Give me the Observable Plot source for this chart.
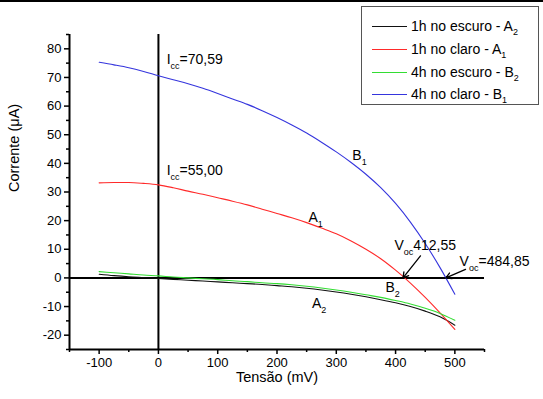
<!DOCTYPE html>
<html>
<head>
<meta charset="utf-8">
<script src="https://cdn.jsdelivr.net/npm/d3@7"></script>
<script src="https://cdn.jsdelivr.net/npm/@observablehq/plot@0.6"></script>
<style>
  html, body { margin: 0; padding: 0; background: #fff; }
  #wrap { position: relative; width: 543px; height: 399px; overflow: hidden; font-family: Arial, "Liberation Sans", sans-serif; }
  #topbar { position: absolute; left: 0; top: 0; width: 543px; height: 2px; background: #000; }
  #legend { position: absolute; left: 361px; top: 6px; width: 176px; height: 97px; border: 1px solid #555; background: #fff; }
  .row { position: absolute; left: 0; height: 16px; display: flex; align-items: center; font-size: 14px; color: #000; white-space: nowrap; }
  .swatch { display: inline-block; width: 35px; height: 0; border-top: 1px solid; margin-left: 10px; margin-right: 4px; }
  sub { font-size: 9px; vertical-align: -4px; line-height: 0; }
</style>
</head>
<body>
<div id="wrap"><div id="topbar"></div></div>
<script>
// ---- data ----
const voltage = [-100,-75,-50,-25,0,25,50,75,100,125,150,175,200,225,250,275,300,325,350,375,400,425,450,475,500];
const currentA2 = [1.3,0.8,0.4,0.1,-0.2,-0.5,-0.8,-1.1,-1.4,-1.7,-2.0,-2.3,-2.7,-3.1,-3.6,-4.2,-4.9,-5.7,-6.6,-7.6,-8.7,-10.0,-11.6,-13.6,-16.5];
const currentA1 = [33.2,33.3,33.3,33.0,32.5,31.5,30.3,29.2,28.0,26.8,25.5,24.0,22.5,21.0,19.3,17.4,15.4,12.9,10.0,6.7,2.7,-1.8,-6.8,-12.2,-18.0];
const currentB2 = [2.2,1.8,1.4,1.0,0.7,0.3,0.0,-0.3,-0.6,-1.0,-1.3,-1.7,-2.0,-2.4,-2.9,-3.5,-4.2,-5.0,-5.9,-6.8,-7.9,-9.1,-10.6,-12.4,-14.8];
const currentB1 = [75.3,74.4,73.4,72.1,70.6,69.2,67.8,66.2,64.4,62.5,60.6,58.4,56.0,53.4,50.6,47.4,44.0,40.3,36.2,31.5,26.0,19.5,12.0,3.6,-5.7];

const seriesNames = ["1h no escuro - A_{2}", "1h no claro - A_{1}", "4h no escuro - B_{2}", "4h no claro - B_{1}"];
const seriesColors = ["#111111", "#ff2a2a", "#33dd33", "#3535dd"];
const seriesValues = [currentA2, currentA1, currentB2, currentB1];

const xMajorTicks = [-100,0,100,200,300,400,500];
const xMinorTicks = [-150,-50,50,150,250,350,450,550];
const yMajorTicks = [-20,-10,0,10,20,30,40,50,60,70,80];
const yMinorTicks = [-25,-15,-5,5,15,25,35,45,55,65,75,85];

const labelText = ["I_{cc}=70,59","I_{cc}=55,00","B_{1}","A_{1}","V_{oc}412,55","V_{oc}=484,85","B_{2}","A_{2}"];
const labelX =    [14, 14, 327, 253, 398, 508, 383, 259];
const labelY =    [76.1, 37.5, 42.8, 21.2, 11.2, 5.7, -3.4, -9.1];

const arrowX1 = [442, 518];
const arrowY1 = [7.7, 3.0];
const arrowX2 = [412.55, 484.85];
const arrowY2 = [0, 0];

// ---- build tables ----
const rows = [];
seriesValues.forEach((vals, si) => {
  vals.forEach((v, i) => rows.push({series: seriesNames[si], x: voltage[i], y: v}));
});
const labels = labelText.map((t, i) => ({t, x: labelX[i], y: labelY[i]}));
const arrows = arrowX1.map((x1, i) => ({x1, y1: arrowY1[i], x2: arrowX2[i], y2: arrowY2[i]}));

const plot = Plot.plot({
  width: 543,
  height: 399,
  marginLeft: 69,
  marginRight: 59,
  marginTop: 34,
  marginBottom: 50,
  style: {fontFamily: "Arial, 'Liberation Sans', sans-serif", fontSize: "14px", color: "#000", background: "transparent"},
  x: {domain: [-150, 550]},
  y: {domain: [-25, 85]},
  color: {domain: seriesNames, range: seriesColors},
  marks: [
    Plot.axisX({ticks: xMajorTicks, tickSize: 5, tickPadding: 3, fontSize: 13, strokeWidth: 1.5, label: null, tickFormat: d => d < 0 ? "-" + Math.abs(d) : String(d)}),
    Plot.axisX({ticks: xMinorTicks, tickSize: 3, text: null, label: null, strokeWidth: 1.5}),
    Plot.axisY({ticks: yMajorTicks, tickSize: 5, tickPadding: 3, fontSize: 13, strokeWidth: 1.5, label: null, tickFormat: d => d < 0 ? "-" + Math.abs(d) : String(d)}),
    Plot.axisY({ticks: yMinorTicks, tickSize: 3, text: null, label: null, strokeWidth: 1.5}),
    Plot.text(["Tensão (mV)"], {frameAnchor: "bottom", dy: 32, fontSize: 14.5, fill: "#000"}),
    Plot.text(["Corrente (μA)"], {frameAnchor: "left", dx: -55, rotate: -90, fontSize: 14.5, fill: "#000"}),
    Plot.ruleX([-150], {stroke: "#000", strokeWidth: 2}),
    Plot.ruleY([-25], {stroke: "#000", strokeWidth: 2}),
    Plot.ruleX([0], {stroke: "#000", strokeWidth: 2}),
    Plot.ruleY([0], {stroke: "#000", strokeWidth: 2}),
    Plot.line(rows, {x: "x", y: "y", z: "series", stroke: "series", strokeWidth: 1.1, curve: "monotone-x"}),
    Plot.arrow(arrows, {x1: "x1", y1: "y1", x2: "x2", y2: "y2", stroke: "#000", strokeWidth: 1.3, headLength: 7}),
    Plot.text(labels, {x: "x", y: "y", text: "t", textAnchor: "start", fontSize: 14, fill: "#000"})
  ]
});

// subscripts
plot.querySelectorAll("text").forEach(el => {
  const s = el.textContent;
  if (!s.includes("_{")) return;
  while (el.firstChild) el.removeChild(el.firstChild);
  const parts = s.split(/(_\{[^}]*\})/).filter(p => p.length);
  let shifted = false;
  parts.forEach(p => {
    const ts = document.createElementNS("http://www.w3.org/2000/svg", "tspan");
    if (p.startsWith("_{")) {
      ts.textContent = p.slice(2, -1);
      ts.setAttribute("font-size", "9");
      ts.setAttribute("dy", "5");
      shifted = true;
    } else {
      ts.textContent = p;
      if (shifted) { ts.setAttribute("dy", "-5"); shifted = false; }
    }
    el.appendChild(ts);
  });
});

plot.style.position = "absolute";
plot.style.left = "0";
plot.style.top = "0";
const wrap = document.getElementById("wrap");
wrap.insertBefore(plot, wrap.firstChild);

// legend
const legend = document.createElement("div");
legend.id = "legend";
const rowTops = [11, 34, 57, 79];
seriesNames.forEach((name, i) => {
  const r = document.createElement("div");
  r.className = "row";
  r.style.top = rowTops[i] + "px";
  const sw = document.createElement("span");
  sw.className = "swatch";
  sw.style.borderColor = seriesColors[i];
  r.appendChild(sw);
  const t = document.createElement("span");
  t.innerHTML = name.replace(/_\{([^}]*)\}/g, "<sub>$1</sub>");
  r.appendChild(t);
  legend.appendChild(r);
});
wrap.appendChild(legend);
</script>
</body>
</html>
